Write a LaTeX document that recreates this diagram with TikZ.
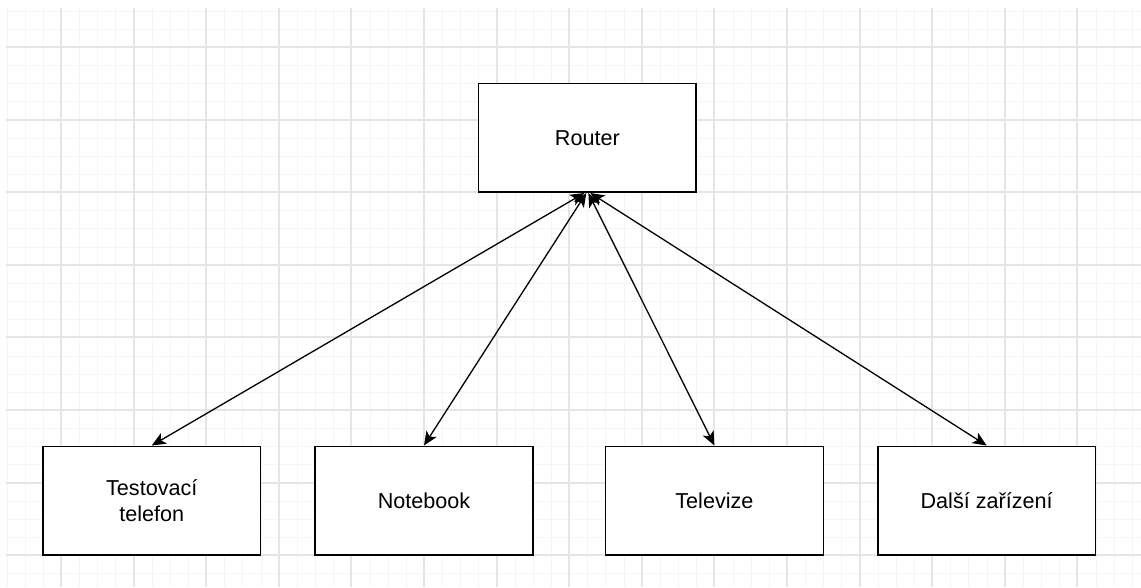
\documentclass[tikz,border=0pt]{standalone}
\usepackage{fontspec}
\setmainfont{Liberation Sans}
\usetikzlibrary{arrows.meta}
\begin{document}
\begin{tikzpicture}[x=18.15pt,y=-18.15pt,
  box/.style={draw=black,line width=1.6pt,fill=white,minimum width=217.8pt,
    minimum height=108.9pt,inner sep=0pt,align=center,
    font=\fontsize{21.6}{26}\selectfont,text=black},
  tip/.tip={Stealth[length=14pt,width=12pt,inset=3.5pt]},
  link/.style={line width=1.3pt,tip-tip},
  minorline/.style={draw=black!4,line width=1pt},
  majorline/.style={draw=black!10,line width=2pt}]
% canvas
\useasboundingbox (-3.3609,-2.5895) rectangle (59.5041,29.7521);
\fill[white] (-3.3609,-2.5895) rectangle (59.5041,29.7521);
% background grid, snapped to whole points: fine lines every cell,
% heavier lines every fourth cell
\begin{scope}[x=1pt,y=-1pt]
  \foreach \k in {-3,...,59} {
    \pgfmathsetmacro\gx{round(61+\k*18.15)-61+0.5}
    \pgfmathtruncatemacro\m{mod(\k+40,4)}
    \ifnum\m=0\relax\else
      \draw[minorline] (\gx,-39) -- (\gx,540);
    \fi}
  \foreach \k in {-2,...,29} {
    \pgfmathsetmacro\gy{round(47+\k*18.15)-47+0.5}
    \pgfmathtruncatemacro\m{mod(\k+40,4)}
    \ifnum\m=0\relax\else
      \draw[minorline] (-55,\gy) -- (1080,\gy);
    \fi}
  \foreach \k in {0,4,...,56} {
    \pgfmathsetmacro\gx{round(61+\k*18.15)-61}
    \draw[majorline] (\gx,-39) -- (\gx,540);}
  \foreach \k in {0,4,...,28} {
    \pgfmathsetmacro\gy{round(47+\k*18.15)-47}
    \draw[majorline] (-55,\gy) -- (1080,\gy);}
\end{scope}
% devices
\node[box] (router) at (29,5) {Router};
\node[box] (phone) at (5,25) {Testovací\\telefon};
\node[box] (notebook) at (20,25) {Notebook};
\node[box] (tv) at (36,25) {Televize};
\node[box] (other) at (51,25) {Další zařízení};
% links
\draw[link] ([xshift=-3pt]router.south) -- (phone.north);
\draw[link] ([xshift=-1pt]router.south) -- (notebook.north);
\draw[link] ([xshift=1pt]router.south) -- (tv.north);
\draw[link] ([xshift=3pt]router.south) -- (other.north);
\end{tikzpicture}
\end{document}
